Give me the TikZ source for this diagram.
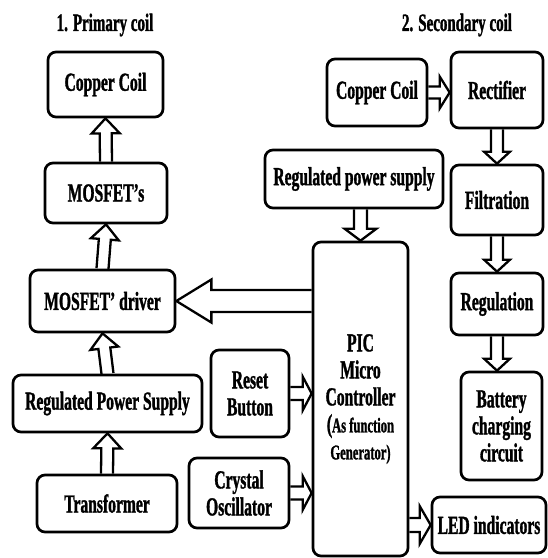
\documentclass[tikz,border=0pt]{standalone}
\usepackage{fontspec}
\setmainfont{Liberation Serif}[FakeStretch=0.6, BoldFeatures={FakeBold=1.2}]
\usetikzlibrary{calc}
\tikzset{
  box/.style={draw, line width=2.7pt, rounded corners=8pt, align=center, inner sep=0pt,
    font=\bfseries\fontsize{26}{27}\selectfont},
  arr/.style={draw, line width=2.3pt, line join=miter},
  ttl/.style={font=\bfseries\fontsize{25}{26}\selectfont}
}
% block arrow: from, to, shaft half-width, head half-width, head length
\newcommand\barrow[5]{%
  \coordinate (bh) at ($(#2)!#5!(#1)$);
  \draw[arr] ($(#1)!#3!90:(#2)$) -- ($(bh)!#3!-90:(#1)$) -- ($(bh)!#4!-90:(#1)$) -- (#2)
    -- ($(bh)!#4!90:(#1)$) -- ($(bh)!#3!90:(#1)$) -- ($(#1)!#3!-90:(#2)$);
}
\begin{document}
\begin{tikzpicture}[x=1pt,y=-1pt]
\useasboundingbox (0,0) rectangle (548,558);
% titles
\node[ttl] (t1) at (105,25) {1. Primary coil};
\node[ttl] (t2) at (457,25) {2. Secondary coil};
% primary side
\node[box, minimum width=115pt, minimum height=65pt] (pcc) at (105.5,84.5) {Copper Coil};
\node[box, minimum width=122pt, minimum height=60pt] (mos) at (106,193) {MOSFET’s};
\node[box, minimum width=145pt, minimum height=62pt] (drv) at (102.5,301) {MOSFET’ driver};
\node[box, minimum width=189pt, minimum height=57pt] (rps) at (107.5,403.5) {Regulated Power Supply};
\node[box, minimum width=140pt, minimum height=57pt] (trf) at (107,503.5) {Transformer};
% middle
\node[box, minimum width=78pt, minimum height=87pt] (rst) at (250,393.5) {Reset\\Button};
\node[box, minimum width=100pt, minimum height=70pt] (xtal) at (239,493) {Crystal\\Oscillator};
\node[box, minimum width=95pt, minimum height=314pt] (pic) at (360.5,399)
  {PIC\\Micro\\Controller\\(\fontsize{21}{27}\selectfont As function\\
   \fontsize{21}{27}\selectfont Generator)};
\node[box, minimum width=178pt, minimum height=58pt] (srps) at (354,179) {Regulated power supply};
% secondary side
\node[box, minimum width=100pt, minimum height=67pt] (scc) at (377,92.5) {Copper Coil};
\node[box, minimum width=92pt, minimum height=76pt] (rect) at (497,90) {Rectifier};
\node[box, minimum width=92pt, minimum height=70pt] (filt) at (497,200) {Filtration};
\node[box, minimum width=92pt, minimum height=62pt] (reg) at (497,304) {Regulation};
\node[box, minimum width=81pt, minimum height=108pt] (bat) at (501.5,426) {Battery\\charging\\circuit};
\node[box, minimum width=114pt, minimum height=56pt] (led) at (489,525) {LED indicators};
% helper coordinates
\coordinate (drvA) at (pic.west |- drv.east);
\coordinate (rstB) at (rst.east -| pic.west);
\coordinate (xtalB) at (xtal.east -| pic.west);
\coordinate (ledA) at (pic.east |- led.west);
\coordinate (srpsA) at (srps.south -| pic.north);
\coordinate (sccB) at (scc.east -| rect.west);
\coordinate (batB) at (reg.south |- bat.north);
% arrows
\barrow{mos.north}{pcc.south}{6pt}{14pt}{15pt}
\barrow{drv.north}{mos.south}{6pt}{14pt}{15pt}
\barrow{rps.north}{drv.south}{6pt}{14pt}{15pt}
\barrow{trf.north}{rps.south}{6pt}{14pt}{15pt}
\barrow{drvA}{drv.east}{11pt}{21.5pt}{35pt}
\barrow{rst.east}{rstB}{6.5pt}{17pt}{9pt}
\barrow{xtal.east}{xtalB}{6.5pt}{17pt}{9pt}
\barrow{ledA}{led.west}{7pt}{19pt}{11pt}
\barrow{srpsA}{pic.north}{6.5pt}{16pt}{12pt}
\barrow{scc.east}{sccB}{6pt}{16pt}{10pt}
\barrow{rect.south}{filt.north}{6pt}{13pt}{12pt}
\barrow{filt.south}{reg.north}{6pt}{13pt}{12pt}
\barrow{reg.south}{batB}{6pt}{13pt}{12pt}
\end{tikzpicture}
\end{document}
